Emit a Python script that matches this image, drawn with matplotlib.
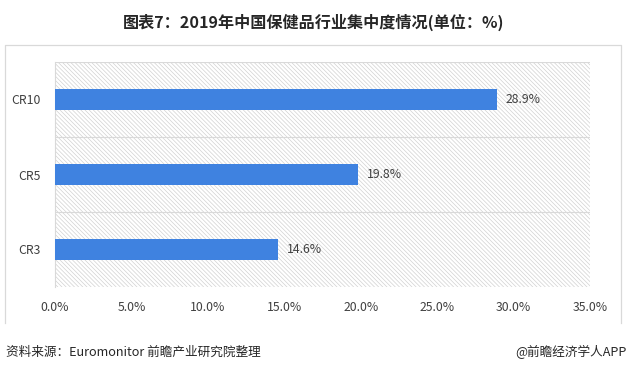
import matplotlib
matplotlib.use("Agg")
import matplotlib.pyplot as plt
from matplotlib.lines import Line2D
from matplotlib.patches import Rectangle

plt.rcParams['font.family'] = ['Noto Sans CJK SC', 'DejaVu Sans']
plt.rcParams['hatch.linewidth'] = 0.5
plt.rcParams['hatch.color'] = '#d2d2d2'

categories = ['CR3', 'CR5', 'CR10']
values = [14.6, 19.8, 28.9]
xticks = [0, 5, 10, 15, 20, 25, 30, 35]

W, H = 628, 373
fig = plt.figure(figsize=(W / 100, H / 100), dpi=100)
ax = fig.add_axes([55 / W, 1 - 287 / H, 535 / W, 225 / H])

# outer frame of the chart card (top, left, right only)
fx = [5 / W, 5 / W, 621 / W, 621 / W]
fy = [1 - 323 / H, 1 - 45 / H, 1 - 45 / H, 1 - 323 / H]
fig.lines.append(Line2D(fx, fy, transform=fig.transFigure, color='#d9d9d9', lw=0.9))

# hatched plot background
ax.add_patch(Rectangle((0, 0), 1, 1, transform=ax.transAxes, facecolor='white',
                       edgecolor='#d2d2d2', hatch='\\\\\\\\\\\\\\\\', lw=0, zorder=0))

y = range(len(categories))
ax.barh(y, values, height=0.29, color='#3f82e0', zorder=3)
for yi, v in zip(y, values):
    ax.text(v + 0.6, yi, f'{v:.1f}%', va='center', ha='left', fontsize=8.8,
            color='#404040', zorder=4)

ax.set_xlim(0, 35)
ax.set_ylim(-0.5, 2.5)
ax.set_yticks(list(y))
ax.set_yticklabels(categories)
ax.set_xticks(xticks)
ax.set_xticklabels([f'{t:.1f}%' for t in xticks])
ax.tick_params(length=0, labelsize=8.8, labelcolor='#404040')
ax.tick_params(axis='x', pad=10)
ax.tick_params(axis='y', pad=10)
for yl in [0.5, 1.5, 2.5]:
    ax.axhline(yl, color='#d9d9d9', lw=0.8, zorder=1)
for s in ['top', 'right', 'bottom']:
    ax.spines[s].set_visible(False)
ax.spines['left'].set_color('#d9d9d9')
ax.spines['left'].set_linewidth(0.8)

fig.text(0.5, 1 - 22 / H, '图表7：2019年中国保健品行业集中度情况(单位：%)', ha='center',
         va='center', fontsize=11.6, fontweight='bold', color='#262626')
fig.text(6 / W, 1 - 352 / H, '资料来源：Euromonitor 前瞻产业研究院整理', ha='left',
         va='center', fontsize=9.1, color='#262626')
fig.text(627 / W, 1 - 352 / H, '@前瞻经济学人APP', ha='right', va='center',
         fontsize=9.1, color='#262626')

fig.savefig('out.png', dpi=100)
